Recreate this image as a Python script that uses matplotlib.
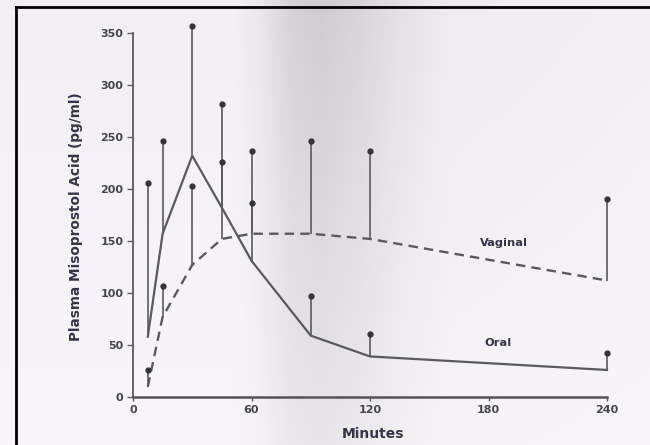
import numpy as np
import matplotlib
matplotlib.use("Agg")
import matplotlib.pyplot as plt
from matplotlib.lines import Line2D

# ---- data ----
time = [7.5, 15, 30, 45, 60, 90, 120, 240]
oral_mean = [58, 157, 232, 182, 131, 59, 39, 26]
oral_upper = [206, 246, 357, 282, 237, 97, 61, 42]
vag_mean = [10, 77, 127, 152, 157, 157, 152, 112]
vag_upper = [26, 107, 203, 226, 187, 246, 237, 190]
x_ticks = [0, 60, 120, 180, 240]
y_ticks = [0, 50, 100, 150, 200, 250, 300, 350]

W, H = 650, 445
fig = plt.figure(figsize=(W / 100, H / 100), dpi=100)

# ---- scanned-paper background with shadow band ----
bg = fig.add_axes([0, 0, 1, 1], zorder=-10)
xs = np.arange(W)
prof_x = [0, 235, 258, 290, 320, 360, 400, 450, 650]
prof_v = [0.955, 0.955, 0.925, 0.84, 0.815, 0.85, 0.9, 0.94, 0.955]
g = np.interp(xs, prof_x, prof_v)
ys = np.linspace(1.0, 0.45, H)[:, None]
shade = 1 - (1 - g[None, :]) * ys
img = np.dstack([shade * 0.995, shade * 0.985, shade * 1.0])
img = np.clip(img, 0, 1)
bg.imshow(img, aspect="auto", extent=[0, 1, 0, 1], origin="upper")
bg.set_xlim(0, 1)
bg.set_ylim(0, 1)
bg.axis("off")

# frame of the scan (left and top edges)
fig.add_artist(Line2D([16 / W, 16 / W], [0, 1 - 7 / H], transform=fig.transFigure,
                      color="black", lw=2))
fig.add_artist(Line2D([16 / W, 1], [1 - 7 / H, 1 - 7 / H], transform=fig.transFigure,
                      color="black", lw=2))

ax = fig.add_axes([133 / W, (H - 397) / H, 474 / W, 364 / H])
ax.patch.set_alpha(0)
ax.set_xlim(0, 240)
ax.set_ylim(0, 350)

lc = "#5a5a5e"
tc = "#45454c"
# mean curves
ax.plot(time, oral_mean, color=lc, lw=1.6, solid_joinstyle="miter", clip_on=False)
ax.plot(time, vag_mean, color=lc, lw=1.7, dashes=(4, 2.6), clip_on=False)

# one-sided error bars
for t, m, u in zip(time, oral_mean, oral_upper):
    ax.vlines(t, m, u, color=lc, lw=1.2, clip_on=False)
for t, m, u in zip(time, vag_mean, vag_upper):
    ax.vlines(t, m, u, color=lc, lw=1.2, clip_on=False)
ax.plot(time, oral_upper, ls="none", marker="o", ms=3.5, color="#333338", clip_on=False)
ax.plot(time, vag_upper, ls="none", marker="o", ms=3.5, color="#333338", clip_on=False)

# spines / ticks
for s in ["top", "right"]:
    ax.spines[s].set_visible(False)
ax.spines["left"].set_color(lc)
ax.spines["bottom"].set_color("#55505e")
ax.spines["left"].set_linewidth(1.3)
ax.spines["bottom"].set_linewidth(1.8)
ax.set_xticks(x_ticks)
ax.set_yticks(y_ticks)
ax.tick_params(axis="y", direction="out", length=4, width=1, color=lc,
               labelsize=8, labelcolor=tc, pad=3)
ax.tick_params(axis="x", direction="out", length=3, width=1, color=lc,
               labelsize=8, labelcolor=tc, pad=3)
for lab in ax.get_xticklabels() + ax.get_yticklabels():
    lab.set_fontweight("bold")

ax.set_ylabel("Plasma Misoprostol Acid (pg/ml)", fontsize=9.8, color="#34344a",
              fontweight="bold")
ax.yaxis.set_label_coords(-0.105, 0.495)
ax.set_xlabel("Minutes", fontsize=10, color="#34344a", fontweight="bold")
ax.xaxis.set_label_coords(0.506, -0.082)

ax.text(188, 148, "Vaginal", fontsize=8.2, color="#34344a", ha="center", va="center",
        fontweight="bold")
ax.text(185, 52, "Oral", fontsize=8.2, color="#34344a", ha="center", va="center",
        fontweight="bold")

fig.savefig("out.png", dpi=100)
